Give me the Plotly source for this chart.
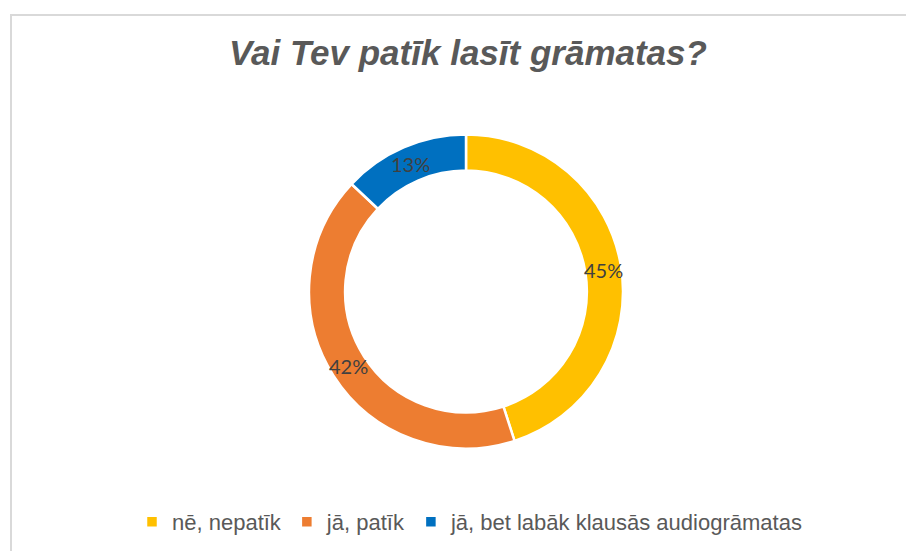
import math
import plotly.graph_objects as go

labels = ["nē, nepatīk", "jā, patīk", "jā, bet labāk klausās audiogrāmatas"]
values = [45, 42, 13]
colors = ["#FFC000", "#ED7D31", "#0070C0"]
title = "Vai Tev patīk lasīt grāmatas?"

W, H = 906, 551

# donut geometry (pixels)
CX, CY, R = 466, 291.5, 157
HOLE = 0.77
dom_x = [(CX - R) / W, (CX + R) / W]
dom_y = [1 - (CY + R) / H, 1 - (CY - R) / H]

fig = go.Figure(go.Pie(
    labels=labels,
    values=values,
    hole=HOLE,
    sort=False,
    direction="clockwise",
    rotation=0,
    marker=dict(colors=colors, line=dict(color="white", width=2.5)),
    textinfo="none",
    domain=dict(x=dom_x, y=dom_y),
    showlegend=True,
    hoverinfo="label+percent",
))

# percentage labels at the middle of each ring segment
total = sum(values)
r_mid = R * (1 + HOLE) / 2
cum = 0
annotations = []
for v in values:
    theta = 2 * math.pi * (cum + v / 2) / total
    cum += v
    annotations.append(dict(
        x=(CX + r_mid * math.sin(theta)) / W,
        y=1 - (CY - r_mid * math.cos(theta)) / H,
        xref="paper", yref="paper",
        text=f"{round(100 * v / total)}%",
        showarrow=False,
        xanchor="center", yanchor="middle",
        font=dict(family="Lato, Calibri, sans-serif", size=20, color="#404040"),
    ))

fig.update_layout(
    width=W, height=H,
    margin=dict(l=0, r=0, t=0, b=0),
    paper_bgcolor="white",
    plot_bgcolor="white",
    title=dict(
        text="<b><i>" + title + "</i></b>",
        x=468 / W, xanchor="center",
        y=1 - 53 / H, yanchor="middle",
        font=dict(family="Liberation Sans, Arial, sans-serif", size=35, color="#595959"),
    ),
    legend=dict(
        orientation="h",
        x=470 / W, xanchor="center",
        y=1 - 522 / H, yanchor="middle",
        font=dict(family="Liberation Sans, Arial, sans-serif", size=22, color="#595959"),
        itemwidth=30,
        bgcolor="rgba(0,0,0,0)",
    ),
    annotations=annotations,
    shapes=[dict(
        type="rect", xref="paper", yref="paper",
        x0=11 / W, x1=1.02, y0=-0.02, y1=1 - 15 / H,
        line=dict(color="#D9D9D9", width=2),
        fillcolor="rgba(0,0,0,0)",
        layer="below",
    )],
)

fig.write_html("out.html", config={"displayModeBar": False},
               post_script="document.body.style.margin='0';")
